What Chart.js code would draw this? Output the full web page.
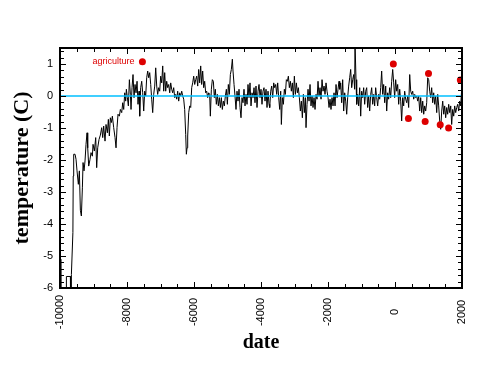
<!DOCTYPE html>
<html>
<head>
<meta charset="utf-8">
<script src="https://cdn.jsdelivr.net/npm/chart.js"></script>
<style>
  body { margin: 0; background: #fff; }
  canvas { display: block; }
</style>
</head>
<body>
<canvas id="chart" width="498" height="375"></canvas>
<script>
// axis labels
const xTickLabels = [-10000, -8000, -6000, -4000, -2000, 0, 2000];
const xMinorStep = 500;
const yMinorStep = 0.2;

// temperature record, [year, deg C]
const deglacial = [
  [-9985, -5.1], [-9975, -6.5], [-9815, -6.5], [-9809, -5.64], [-9690, -5.64], [-9685, -6.5],
  [-9665, -6.5], [-9660, -5.58], [-9615, -4.27], [-9605, -2.5], [-9591, -1.82], [-9551, -1.82],
  [-9521, -1.98], [-9492, -2.34], [-9452, -2.76], [-9422, -2.34], [-9392, -3.57], [-9362, -3.75],
  [-9332, -2.87], [-9312, -2.08], [-9283, -2.34], [-9253, -2.03], [-9223, -1.51], [-9193, -1.15],
  [-9173, -1.62], [-9143, -2.19], [-9104, -1.98], [-9074, -1.77], [-9034, -1.88], [-9014, -1.51],
  [-8974, -1.72], [-8934, -1.30], [-8905, -2.24], [-8875, -1.62], [-8835, -1.36], [-8795, -1.22],
  [-8755, -0.99], [-8725, -1.30], [-8696, -0.94], [-8656, -1.41], [-8626, -0.89], [-8586, -1.15],
  [-8556, -0.73], [-8527, -1.25], [-8497, -0.68], [-8467, -0.83], [-8437, -0.63], [-8397, -0.99],
  [-8357, -1.30], [-8327, -1.62], [-8298, -0.99], [-8268, -0.57], [-8228, -0.63], [-8198, -0.42],
  [-8158, -0.52], [-8128, -0.21], [-8098, -0.42], [-8068, 0.10], [-8039, -0.16], [-8019, 0.21],
  [-7989, -0.05]
];

const earlyHolocene = [
  [-7959, -0.31], [-7929, 0.51], [-7899, 0.05], [-7880, -0.42], [-7850, 0.26], [-7820, 0.67],
  [-7790, -0.05], [-7760, 0.36], [-7730, 0.10], [-7700, 0.46], [-7671, -0.26], [-7641, 0.15],
  [-7621, -0.63], [-7591, 0.26], [-7561, 0.46], [-7531, 0.10], [-7501, -0.47], [-7472, 0.15],
  [-7442, 0], [-7412, 0.57], [-7382, 0.78], [-7352, 0.57], [-7322, 0.73], [-7292, 0.36],
  [-7263, -0.10], [-7233, -0.52], [-7203, 0.05], [-7173, 0.31], [-7143, 0.88], [-7113, 0.31],
  [-7084, 0.05], [-7054, 0.26], [-7024, 0.15], [-6994, 0.62], [-6964, 0.41], [-6934, 0.94],
  [-6904, 0.15], [-6875, 0.73], [-6845, 0.15], [-6815, 0.46], [-6785, 0.26], [-6755, 0.36],
  [-6725, 0.10], [-6695, 0.41], [-6666, 0.21], [-6636, 0.10], [-6606, 0.26], [-6576, -0.05],
  [-6546, 0.05], [-6516, -0.10], [-6487, 0.15], [-6457, -0.16], [-6427, 0.10], [-6397, 0],
  [-6367, 0.15], [-6337, 0], [-6307, -0.10], [-6278, -0.42], [-6248, -1.20], [-6228, -1.82],
  [-6208, -1.62], [-6188, -1.25], [-6158, -0.52], [-6128, -0.31], [-6098, -0.36], [-6069, 0.26],
  [-6039, 0.41], [-6009, 0.62], [-5979, 0.36], [-5949, 0.51], [-5919, 0.62], [-5889, 0.31],
  [-5860, 0.83]
];

const midHolocene = [
  [-5830, 0.41], [-5800, 0.94], [-5771, 0.36], [-5741, 0.78], [-5711, 0.26], [-5681, 0.46],
  [-5651, 0.10], [-5621, 0.15], [-5592, -0.05], [-5562, 0.10], [-5532, 0.05], [-5512, -0.63],
  [-5482, 0.21], [-5452, 0.51], [-5422, 0.46], [-5393, -0.05], [-5363, 0.21], [-5333, -0.26],
  [-5303, 0.05], [-5273, -0.31], [-5243, -0.05], [-5213, -0.36], [-5184, -0.05], [-5154, -0.42],
  [-5124, -0.16], [-5094, -0.31], [-5064, 0], [-5034, 0.21], [-5004, -0.26], [-4975, 0.36],
  [-4945, 0.05], [-4915, 0.67], [-4885, 0.83], [-4855, 1.15], [-4835, 0.78], [-4805, 0.36],
  [-4776, 0], [-4746, -0.42], [-4716, 0.15], [-4686, -0.16], [-4656, 0.21], [-4626, -0.36],
  [-4597, -0.68], [-4567, -0.05], [-4537, -0.21], [-4507, 0.21], [-4477, -0.31], [-4447, 0.05],
  [-4417, -0.26], [-4388, 0.36], [-4358, -0.05], [-4328, 0.41], [-4298, -0.31], [-4268, 0.10],
  [-4238, -0.05], [-4208, 0.26], [-4179, -0.21], [-4149, 0.31], [-4119, -0.36], [-4089, 0.15],
  [-4059, 0.36], [-4029, -0.05], [-4000, 0.21], [-3970, -0.26], [-3940, 0.15], [-3910, 0.26],
  [-3880, -0.16], [-3850, 0.21], [-3820, -0.36], [-3791, 0.15], [-3761, -0.26]
];

const lateHolocene = [
  [-3740, -0.36], [-3710, 0.15], [-3681, 0.31], [-3651, -0.05], [-3621, 0.41], [-3591, 0.26],
  [-3561, 0.36], [-3531, 0.05], [-3502, 0.41], [-3472, -0.05], [-3442, -0.42], [-3412, 0.15],
  [-3392, -0.89], [-3362, -0.05], [-3332, -0.26], [-3303, 0.21], [-3273, 0.05], [-3243, 0.51],
  [-3213, 0.46], [-3183, 0.62], [-3153, 0.26], [-3123, 0.46], [-3094, 0.15], [-3064, 0.41],
  [-3034, -0.05], [-3004, 0.62], [-2974, 0.05], [-2944, 0.41], [-2914, 0.10], [-2885, 0.26],
  [-2855, -0.05], [-2825, -0.47], [-2795, -0.16], [-2765, -0.68], [-2735, 0.05], [-2706, -0.52],
  [-2676, -0.05], [-2656, -0.99], [-2626, -0.26], [-2596, 0.21], [-2566, -0.16], [-2536, 0.36],
  [-2507, -0.31], [-2477, 0], [-2447, -0.36], [-2417, -0.05], [-2387, -0.42], [-2357, 0.05],
  [-2327, -0.10], [-2298, 0.46], [-2268, 0], [-2238, 0.26], [-2208, -0.10], [-2178, 0.51],
  [-2148, 0.15], [-2118, 0.31], [-2089, 0.05], [-2059, 0.41], [-2029, 0.15], [-1999, -0.05],
  [-1969, -0.36], [-1939, -0.10], [-1910, -0.42], [-1880, -0.05], [-1850, -0.31], [-1820, 0.10],
  [-1790, -0.31], [-1760, 0.36], [-1730, -0.05], [-1701, 0.21], [-1671, 0.46]
];

const lastMillennia = [
  [-1651, 0.21], [-1621, 0.41], [-1592, -0.21], [-1562, 0.51], [-1532, -0.47], [-1502, 0.10],
  [-1472, -0.16], [-1442, -0.57], [-1413, -0.05], [-1383, 0.31], [-1353, 0.57], [-1323, 0.83],
  [-1293, 0.26], [-1263, 0.51], [-1233, 0.67], [-1204, 0.21], [-1194, 1.7], [-1179, 1.7],
  [-1164, 0.51], [-1144, -0.26], [-1114, 0.05], [-1084, -0.31], [-1054, 0.26], [-1024, -0.63],
  [-995, 0.15], [-965, -0.05], [-935, 0.26], [-905, -0.26], [-875, 0.15], [-845, 0.26],
  [-816, -0.36], [-786, 0], [-756, -0.47], [-726, 0.05], [-696, 0.26], [-666, -0.26],
  [-636, 0.05], [-607, -0.31], [-577, 0.26], [-547, -0.05], [-517, -0.31], [-487, 0.05],
  [-457, -0.10], [-427, 0.26], [-398, 0.78], [-368, 0.05], [-338, 0.36], [-308, -0.21],
  [-278, 0.31], [-248, -0.47], [-219, 0.10], [-189, -0.10], [-159, 0.26], [-129, -0.05],
  [-99, 0.46], [-69, 0.83], [-39, 0.41], [-10, -0.05], [20, 0.51], [50, 0.15],
  [80, 0.36], [110, -0.26], [140, 0.21], [170, -0.16], [199, -0.78], [229, -0.05],
  [259, -0.31], [289, 0.15], [319, -0.10], [349, -0.21], [379, 0], [408, -0.36]
];

const commonEra = [
  [439, 0.67], [469, 0.15], [498, 0.05], [528, 0.15], [558, -0.10], [588, 0.05],
  [618, -0.05], [648, 0], [678, -0.16], [707, 0], [737, -0.47], [767, -0.05],
  [797, -0.52], [827, -0.16], [857, -0.57], [886, -0.31], [916, -0.47], [946, -0.21],
  [976, 0.57], [1006, 0.51], [1036, 0.15], [1066, -0.05], [1095, 0.26], [1125, -0.21],
  [1155, 0.10], [1185, -0.26], [1215, 0], [1245, -0.52], [1275, 0.05], [1304, -0.31],
  [1334, -0.78], [1364, -1.04], [1394, -0.47], [1424, -0.16], [1454, -0.57], [1483, -0.31],
  [1513, -0.68], [1543, -0.36], [1573, -0.57], [1603, -0.26], [1633, -0.52], [1663, -0.31],
  [1692, -0.89], [1722, -0.42], [1752, -0.63], [1782, -0.31], [1812, -0.52], [1842, -0.36],
  [1871, -0.26], [1901, -0.47], [1931, -0.16], [1961, -0.31], [1991, 0.21]
];

// red markers
const historyDots = [[-50, 1.0], [400, -0.7], [900, -0.8], [1000, 0.7], [1350, -0.9], [1600, -1.0], [1950, 0.5]];
const agriculture = [-7540, 1.07];
const agricultureLabel = 'agriculture';

// zero reference
const baseline = [[-10000, 0], [2000, 0]];

const RED = '#dd0000';
const CYAN = '#00bfff';

const toXY = arr => arr.map(p => ({ x: p[0], y: p[1] }));
const record = [].concat(deglacial, earlyHolocene, midHolocene, lateHolocene, lastMillennia, commonEra);

// frame, inward ticks, rotated x labels, agriculture label
const decorations = {
  id: 'decorations',
  afterDraw(chart) {
    const { ctx, chartArea: a, scales: { x, y } } = chart;
    ctx.save();
    ctx.strokeStyle = '#000';
    ctx.lineWidth = 1;
    ctx.beginPath();
    for (let v = x.min; v <= x.max; v += xMinorStep) {
      const px = Math.round(x.getPixelForValue(v)) + 0.5;
      const len = v % 2000 === 0 ? 6 : 4;
      ctx.moveTo(px, a.bottom); ctx.lineTo(px, a.bottom - len);
      ctx.moveTo(px, a.top); ctx.lineTo(px, a.top + len);
    }
    for (let i = 0; y.min + i * yMinorStep <= y.max + 1e-9; i++) {
      const v = y.min + i * yMinorStep;
      const py = Math.round(y.getPixelForValue(v)) + 0.5;
      const len = Math.abs(v - Math.round(v)) < 1e-6 ? 6 : 4;
      ctx.moveTo(a.left, py); ctx.lineTo(a.left + len, py);
      ctx.moveTo(a.right, py); ctx.lineTo(a.right - len, py);
    }
    ctx.stroke();

    ctx.lineWidth = 2;
    ctx.strokeRect(a.left, a.top, a.right - a.left, a.bottom - a.top);

    ctx.fillStyle = '#000';
    ctx.font = '11px "Liberation Sans", Arial, sans-serif';
    ctx.textAlign = 'center';
    ctx.textBaseline = 'middle';
    xTickLabels.forEach(v => {
      ctx.save();
      ctx.translate(x.getPixelForValue(v), a.bottom + 24);
      ctx.rotate(-Math.PI / 2);
      ctx.fillText(String(v), 0, 0);
      ctx.restore();
    });

    ctx.fillStyle = RED;
    ctx.font = '9px "Liberation Sans", Arial, sans-serif';
    ctx.textAlign = 'right';
    ctx.fillText(agricultureLabel, x.getPixelForValue(agriculture[0]) - 8, y.getPixelForValue(agriculture[1]));
    ctx.restore();
  }
};

new Chart(document.getElementById('chart'), {
  type: 'line',
  data: {
    datasets: [
      {
        data: toXY(historyDots.concat([agriculture])),
        showLine: false,
        pointRadius: 3.5,
        pointBackgroundColor: RED,
        pointBorderWidth: 0
      },
      {
        data: toXY(baseline),
        borderColor: CYAN,
        borderWidth: 1.5,
        pointRadius: 0
      },
      {
        data: toXY(record),
        borderColor: '#000',
        borderWidth: 1,
        pointRadius: 0,
        tension: 0
      }
    ]
  },
  options: {
    responsive: false,
    animation: false,
    layout: { padding: { top: 48, right: 36, left: 0, bottom: 0 } },
    plugins: { legend: { display: false }, tooltip: { enabled: false } },
    scales: {
      x: {
        type: 'linear',
        min: -10000,
        max: 2000,
        grid: { display: false, drawTicks: false },
        border: { display: false },
        ticks: { display: false },
        title: {
          display: true,
          text: 'date',
          color: '#000',
          font: { family: '"Liberation Serif", "Times New Roman", serif', size: 20, weight: 'bold', lineHeight: 1.2 },
          padding: { top: 0, bottom: 20 }
        },
        afterFit: s => { s.height = 87; }
      },
      y: {
        type: 'linear',
        min: -6,
        max: 1.5,
        grid: { display: false, drawTicks: false },
        border: { display: false },
        ticks: {
          stepSize: 1,
          includeBounds: false,
          padding: 7,
          color: '#000',
          font: { family: '"Liberation Sans", Arial, sans-serif', size: 11 },
          callback: v => String(v)
        },
        title: {
          display: true,
          text: 'temperature (C)',
          color: '#000',
          font: { family: '"Liberation Serif", "Times New Roman", serif', size: 22, weight: 'bold', lineHeight: 1.2 },
          padding: { top: 9, bottom: 0 }
        },
        afterFit: s => { s.width = 60; }
      }
    }
  },
  plugins: [decorations]
});
</script>
</body>
</html>
